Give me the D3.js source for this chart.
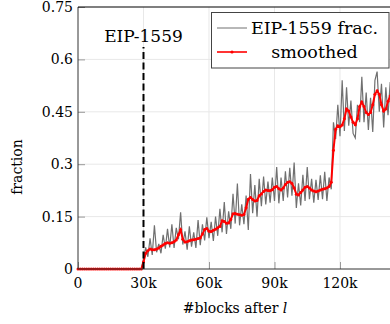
<!DOCTYPE html>
<html>
<head>
<meta charset="utf-8">
<script src="https://cdn.jsdelivr.net/npm/d3@7"></script>
<style>
  body { margin: 0; background: #fff; }
  svg { display: block; }
  text { font-family: "DejaVu Serif", "Liberation Serif", serif; fill: #000; }
</style>
</head>
<body>
<script>
// data (fraction of EIP-1559 txs, one sample every 1000 blocks)
var step = 1000;
var beforeFork = [0, 0, 0, 0, 0, 0, 0, 0, 0, 0, 0, 0, 0, 0, 0,
                  0, 0, 0, 0, 0, 0, 0, 0, 0, 0, 0, 0, 0, 0, 0]; // blocks 0 .. 29k
var forkStart = 30000;
var rawFrac = [
  0.030, 0.062, 0.035, 0.088, 0.040, 0.125, 0.048, 0.072, 0.045, 0.098,
  0.058, 0.115, 0.062, 0.128, 0.060, 0.118, 0.085, 0.162, 0.070, 0.108,
  0.055, 0.122, 0.064, 0.105, 0.060, 0.140, 0.068, 0.128, 0.082, 0.148,
  0.088, 0.135, 0.080, 0.150, 0.095, 0.172, 0.105, 0.192, 0.100, 0.165,
  0.115, 0.215, 0.130, 0.245, 0.125, 0.185, 0.128, 0.210, 0.112, 0.272,
  0.160, 0.240, 0.150, 0.258, 0.180, 0.265, 0.185, 0.250, 0.190, 0.262,
  0.195, 0.292, 0.188, 0.262, 0.195, 0.280, 0.205, 0.290, 0.210, 0.305,
  0.175, 0.245, 0.182, 0.270, 0.195, 0.292, 0.200, 0.258, 0.190, 0.255,
  0.198, 0.268, 0.200, 0.278, 0.195, 0.262, 0.228, 0.420, 0.372, 0.470,
  0.380, 0.540, 0.395, 0.520, 0.410, 0.482, 0.388, 0.375, 0.470, 0.420,
  0.550, 0.420, 0.505, 0.398, 0.490, 0.392, 0.540, 0.565, 0.450, 0.530,
  0.405, 0.520, 0.440, 0.535
];
var smoothFrac = [
  0.020, 0.045, 0.052, 0.057, 0.055, 0.055, 0.057, 0.060, 0.065, 0.069,
  0.073, 0.075, 0.074, 0.075, 0.078, 0.083, 0.098, 0.112, 0.085, 0.077,
  0.078, 0.081, 0.083, 0.084, 0.085, 0.087, 0.089, 0.100, 0.113, 0.116,
  0.108, 0.107, 0.111, 0.114, 0.118, 0.122, 0.138, 0.136, 0.131, 0.132,
  0.142, 0.158, 0.159, 0.157, 0.155, 0.154, 0.156, 0.175, 0.200, 0.205,
  0.199, 0.195, 0.196, 0.210, 0.215, 0.222, 0.226, 0.225, 0.224, 0.227,
  0.234, 0.236, 0.230, 0.226, 0.232, 0.242, 0.248, 0.250, 0.245, 0.232,
  0.214, 0.212, 0.219, 0.226, 0.234, 0.236, 0.232, 0.226, 0.223, 0.221,
  0.223, 0.226, 0.228, 0.230, 0.232, 0.236, 0.248, 0.340, 0.400, 0.410,
  0.407, 0.412, 0.430, 0.458, 0.452, 0.435, 0.420, 0.413, 0.430, 0.465,
  0.478, 0.465, 0.448, 0.442, 0.448, 0.470, 0.500, 0.510, 0.500, 0.470,
  0.452, 0.458, 0.480, 0.495
];
var xTicks = [0, 30000, 60000, 90000, 120000];
var xTickLabels = ["0", "30k", "60k", "90k", "120k"];
var yTicks = [0, 0.15, 0.3, 0.45, 0.6, 0.75];
var yTickLabels = ["0", "0.15", "0.3", "0.45", "0.6", "0.75"];
var forkBlock = 30000;
var forkLabel = "EIP-1559";
var legendNames = ["EIP-1559 frac.", "smoothed"];

var width = 390, height = 324;
var plotLeft = 78, plotTop = 7, plotBottom = 269;

var x = d3.scaleLinear().domain([0, 150000]).range([plotLeft, plotLeft + 150 * 2.1833]);
var y = d3.scaleLinear().domain([0, 0.75]).range([plotBottom, plotTop]);

function toPoints(arr, start) {
  return arr.map(function(v, i) { return [start + i * step, v]; });
}
var pre = toPoints(beforeFork, 0);
var raw = pre.concat(toPoints(rawFrac, forkStart));
var smooth = pre.concat(toPoints(smoothFrac, forkStart));

var svg = d3.select("body").append("svg")
    .attr("width", width)
    .attr("height", height);

// grid
svg.append("g").selectAll("line")
  .data(xTicks.slice(1))
  .enter().append("line")
    .attr("x1", function(d) { return x(d); })
    .attr("x2", function(d) { return x(d); })
    .attr("y1", plotTop).attr("y2", plotBottom)
    .attr("stroke", "#e8e8e8").attr("stroke-width", 1);
svg.append("g").selectAll("line")
  .data(yTicks.slice(1, -1))
  .enter().append("line")
    .attr("y1", function(d) { return y(d); })
    .attr("y2", function(d) { return y(d); })
    .attr("x1", plotLeft).attr("x2", width)
    .attr("stroke", "#e8e8e8").attr("stroke-width", 1);

// axes (ticks inward)
var xAxis = svg.append("g")
    .attr("transform", "translate(0," + plotBottom + ")")
    .call(d3.axisTop(x).tickValues(xTicks).tickSize(7).tickFormat(""));
xAxis.select(".domain").remove();
xAxis.selectAll(".tick line").attr("stroke", "#999");

var yAxis = svg.append("g")
    .attr("transform", "translate(" + plotLeft + ",0)")
    .call(d3.axisRight(y).tickValues(yTicks).tickSize(7).tickFormat(""));
yAxis.select(".domain").remove();
yAxis.selectAll(".tick line").attr("stroke", "#999");

// tick labels
svg.append("g").selectAll("text")
  .data(xTicks)
  .enter().append("text")
    .attr("x", function(d) { return x(d); })
    .attr("y", 288)
    .attr("text-anchor", "middle")
    .style("font-size", "14px")
    .text(function(d, i) { return xTickLabels[i]; });
svg.append("g").selectAll("text")
  .data(yTicks)
  .enter().append("text")
    .attr("x", 73)
    .attr("y", function(d) { return y(d) + 5; })
    .attr("text-anchor", "end")
    .style("font-size", "14px")
    .text(function(d, i) { return yTickLabels[i]; });

// series
var line = d3.line()
    .x(function(d) { return x(d[0]); })
    .y(function(d) { return y(d[1]); });

svg.append("path")
    .datum(raw)
    .attr("d", line)
    .attr("fill", "none")
    .attr("stroke", "#707070")
    .attr("stroke-width", 1.2);

svg.append("path")
    .datum(smooth)
    .attr("d", line)
    .attr("fill", "none")
    .attr("stroke", "#ff0000")
    .attr("stroke-width", 2);

svg.append("g").selectAll("circle")
  .data(smooth)
  .enter().append("circle")
    .attr("cx", function(d) { return x(d[0]); })
    .attr("cy", function(d) { return y(d[1]); })
    .attr("r", 1.5)
    .attr("fill", "#ff0000");

// fork marker
svg.append("line")
    .attr("x1", x(forkBlock)).attr("x2", x(forkBlock))
    .attr("y1", plotBottom).attr("y2", 47)
    .attr("stroke", "#000")
    .attr("stroke-width", 2)
    .attr("stroke-dasharray", "7,3.5");
svg.append("text")
    .attr("x", x(forkBlock))
    .attr("y", 42)
    .attr("text-anchor", "middle")
    .style("font-size", "17px")
    .text(forkLabel);

// frame
svg.append("line")
    .attr("x1", plotLeft).attr("x2", width)
    .attr("y1", plotBottom).attr("y2", plotBottom)
    .attr("stroke", "#333").attr("stroke-width", 1);
svg.append("line")
    .attr("x1", plotLeft).attr("x2", plotLeft)
    .attr("y1", plotTop).attr("y2", plotBottom)
    .attr("stroke", "#333").attr("stroke-width", 1);
svg.append("line")
    .attr("x1", plotLeft).attr("x2", width)
    .attr("y1", plotTop).attr("y2", plotTop)
    .attr("stroke", "#000").attr("stroke-width", 1.2);

// axis labels
svg.append("text")
    .attr("x", 235)
    .attr("y", 313)
    .attr("text-anchor", "middle")
    .style("font-size", "14px")
    .html('#blocks after <tspan font-style="italic">l</tspan>');
svg.append("text")
    .attr("transform", "translate(22,167) rotate(-90)")
    .attr("text-anchor", "middle")
    .style("font-size", "14px")
    .text("fraction");

// legend
var legend = svg.append("g");
legend.append("rect")
    .attr("x", 211.5).attr("y", 12.5)
    .attr("width", 177.5).attr("height", 55.5)
    .attr("fill", "#fff")
    .attr("stroke", "#444").attr("stroke-width", 1);
legend.append("line")
    .attr("x1", 217).attr("x2", 247).attr("y1", 28).attr("y2", 28)
    .attr("stroke", "#707070").attr("stroke-width", 1);
legend.append("line")
    .attr("x1", 217).attr("x2", 247).attr("y1", 52).attr("y2", 52)
    .attr("stroke", "#ff0000").attr("stroke-width", 1.6);
legend.append("circle")
    .attr("cx", 232).attr("cy", 52).attr("r", 1.6)
    .attr("fill", "#ff0000");
legend.selectAll("text.name")
  .data(legendNames)
  .enter().append("text")
    .attr("class", "name")
    .attr("x", 314.5)
    .attr("y", function(d, i) { return 34 + i * 24; })
    .attr("text-anchor", "middle")
    .style("font-size", "17.5px")
    .text(function(d) { return d; });
</script>
</body>
</html>
